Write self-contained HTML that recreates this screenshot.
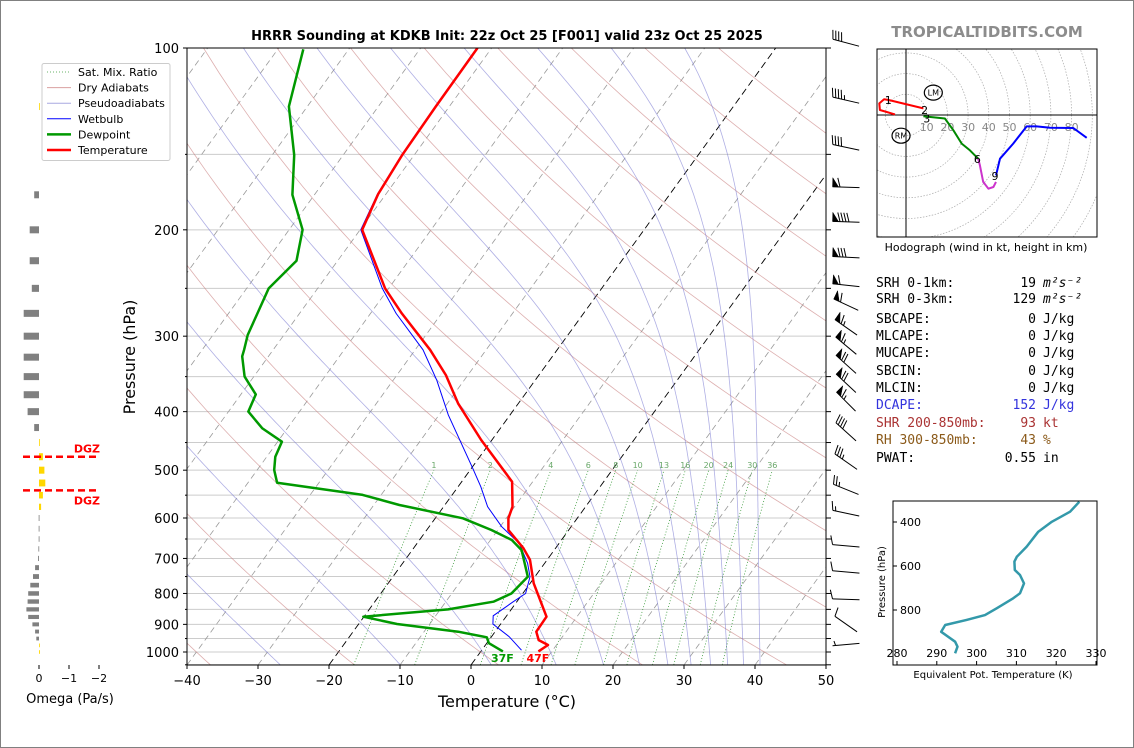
<!DOCTYPE html>
<html><head><meta charset="utf-8"><title>HRRR Sounding KDKB</title>
<style>
html,body{margin:0;padding:0;background:#fff;}
svg{display:block;font-family:"DejaVu Sans","Liberation Sans",sans-serif;}
</style></head>
<body>
<svg id="fig" xmlns="http://www.w3.org/2000/svg" width="1134" height="748" viewBox="0 0 1134 748">
<defs>
<clipPath id="mainclip"><rect x="187" y="48" width="639" height="617"/></clipPath>
<clipPath id="hodoclip"><rect x="877" y="49" width="220" height="188"/></clipPath>
<clipPath id="theclip"><rect x="893" y="501" width="204" height="164"/></clipPath>
</defs>
<rect x="0.5" y="0.5" width="1133" height="747" fill="#fff" stroke="#808080"/>
<text x="507" y="40" text-anchor="middle" font-size="13" font-weight="bold">HRRR Sounding at KDKB Init: 22z Oct 25 [F001] valid 23z Oct 25 2025</text>
<text x="987" y="37" text-anchor="middle" font-size="15" font-weight="bold" fill="#8c8c8c">TROPICALTIDBITS.COM</text>
<g id="main"></g>
<g id="omega"></g>
<g id="barbs"></g>
<g id="hodo"></g>
<g id="stats" font-family="'DejaVu Sans Mono','Liberation Mono',monospace" font-size="13">
<text x="876" y="287">SRH 0-1km:</text><text x="1036" y="287" text-anchor="end">19</text><text x="1043" y="287" font-style="italic">m²s⁻²</text>
<text x="876" y="303">SRH 0-3km:</text><text x="1036" y="303" text-anchor="end">129</text><text x="1043" y="303" font-style="italic">m²s⁻²</text>
<text x="876" y="323">SBCAPE:</text><text x="1036" y="323" text-anchor="end">0</text><text x="1043" y="323">J/kg</text>
<text x="876" y="340">MLCAPE:</text><text x="1036" y="340" text-anchor="end">0</text><text x="1043" y="340">J/kg</text>
<text x="876" y="357">MUCAPE:</text><text x="1036" y="357" text-anchor="end">0</text><text x="1043" y="357">J/kg</text>
<text x="876" y="375">SBCIN:</text><text x="1036" y="375" text-anchor="end">0</text><text x="1043" y="375">J/kg</text>
<text x="876" y="392">MLCIN:</text><text x="1036" y="392" text-anchor="end">0</text><text x="1043" y="392">J/kg</text>
<text x="876" y="409" fill="#3333dd">DCAPE:</text><text x="1036" y="409" text-anchor="end" fill="#3333dd">152</text><text x="1043" y="409" fill="#3333dd">J/kg</text>
<text x="876" y="427" fill="#aa3333">SHR 200-850mb:</text><text x="1036" y="427" text-anchor="end" fill="#aa3333">93</text><text x="1043" y="427" fill="#aa3333">kt</text>
<text x="876" y="444" fill="#8b5a1a">RH 300-850mb:</text><text x="1036" y="444" text-anchor="end" fill="#8b5a1a">43</text><text x="1043" y="444" fill="#8b5a1a">%</text>
<text x="876" y="462">PWAT:</text><text x="1036" y="462" text-anchor="end">0.55</text><text x="1043" y="462">in</text>
</g>
<g id="thetae"></g>
</svg>
<script>
// ---- Sounding data ----
const tempP = [100,125,150,174.5,200,250,275,316,348,387.6,445.7,522.5,574.7,600.6,628,673.5,704,769.7,874,925.6,955.7,973.6,997.7];
const tempC = [-62,-61.9,-61.7,-61.1,-59.7,-50.5,-45.6,-37.9,-33.1,-28.5,-21.5,-12.9,-10.3,-9.7,-8.5,-4.5,-2.4,0.5,5.7,5.8,7.0,8.8,8.1];
const dewP = [100.5,125,150.4,175,200,225,250,298.7,316,324,350,374.5,400,426.4,448.6,475,499.7,524.4,549.5,571,600.6,628,652.6,678,750.5,800,825.5,850,874,898.7,925.6,945.6,967,997.7];
const dewC = [-86.4,-82.6,-76.9,-73.1,-68.1,-65.8,-66.9,-65.1,-64.1,-63.7,-61.3,-57.9,-57.2,-53.5,-49.4,-48.8,-47.6,-45.9,-32.6,-26.4,-16.1,-10.9,-7.0,-4.6,-1.0,-1.6,-3.3,-8.9,-20.1,-14.6,-5.2,-0.6,0.3,3.1];
const wbP = [100,125,150,174.5,200,250,275,316,354.5,405,496.6,532.5,574.7,620,661,713,750.5,800,825.5,871,898.7,943.5,993];
const wbC = [-62.1,-62.0,-61.8,-61.2,-59.9,-50.9,-46.4,-38.9,-33.9,-28.7,-19.8,-16.8,-13.8,-9.8,-5.6,-2.4,-0.7,0.4,-0.5,-1.9,-1.1,2.5,5.6];
const mixRatios = [1,2,4,6,8,10,13,16,20,24,30,36];
const isoTemps = [-130,-120,-110,-100,-90,-80,-70,-60,-50,-40,-30,-20,-10,0,10,20,30,40,50];
const dryT0 = [-40,-20,0,20,40,60,80,100,120,140,160,180,200];
const moistTheta = [244,264,284,304,324,344,364,384,404,424,444,464];
const xTicks = [-40,-30,-20,-10,0,10,20,30,40,50];
const pTicks = [100,200,300,400,500,600,700,800,900,1000];
const pMinor = [150,250,350,450,550,650,750,850,950,1050];
const sfcTempLabel = "47F";
const sfcDewLabel = "37F";
// ---- Omega data ----
const omegaP = [125,175,200,225,250,275,300,325,350,375,400,425,450,475,500,525,550,575,600,625,650,675,700,725,750,775,800,825,850,875,900,925,950,975,1000];
const omegaV = [-0.02,0.16,0.31,0.31,0.24,0.51,0.51,0.51,0.51,0.51,0.38,0.16,-0.02,-0.13,-0.18,-0.21,-0.13,-0.07,0.01,0.01,0.01,0.02,0.03,0.13,0.2,0.29,0.36,0.38,0.42,0.36,0.22,0.13,0.09,-0.02,-0.03];
const omegaTicks = [0,-1,-2];
const dgzP = [475,540];
// ---- Wind barbs ----
const barbP = [98,122,146,170,194,222,247,266,290,311,334,359,385,432,484,538,589,667,737,818,899,972];
const barbDir = [285,283,282,272,272,273,276,295,305,310,312,313,315,312,305,292,282,275,275,272,305,265];
const barbSpd = [40,45,40,60,90,80,60,60,65,65,70,70,65,40,35,25,15,10,10,10,10,5];
// ---- Hodograph ----
const hodoU0 = [-5.3,-12.6,-12.9,-10.6,-8.1,8.4];
const hodoV0 = [0.3,2.4,5.6,7.6,7.2,3.2];
const hodoU1 = [8.4,12.4,18.8,22.9,26.9,30.9,34.9];
const hodoV1 = [-0.6,-1.0,-1.7,-7.4,-13.8,-17.1,-21.1];
const hodoU2 = [34.9,35.7,37.3,39.8,42.2,43.5];
const hodoV2 = [-21.1,-24.3,-32.3,-35.6,-34.8,-32.3];
const hodoU3 = [43.5,45.4,51.8,58.3,63.1,69.6,80.8,87.3];
const hodoV3 = [-29.2,-21.1,-13.8,-5.5,-5.5,-6.2,-6.3,-11.0];
const hodoRings = [10,20,30,40,50,60,70,80,90,100,110,120];
const hodoLabels = ["1","2","3","6","9"];
const hodoLabU = [-8.6,9,10,34.5,43];
const hodoLabV = [7.2,2.5,-1.8,-21.3,-29.5];
const stormU = [13.2,-2.4];
const stormV = [10.8,-10];
const stormNames = ["LM","RM"];
// ---- Theta-e ----
const thetaP = [308,353,399,444,512,558,580,618,641,679,724,747,792,823,845,868,899,944,967,997];
const thetaK = [325.8,323.5,318.9,315.5,312.6,310.1,309.5,309.6,310.9,311.9,310.9,309.2,305.1,302.1,297.5,292.1,291.1,294.6,295.2,294.6];
const thetaXTicks = [280,290,300,310,320,330];
const thetaYTicks = [400,600,800];

const NS='http://www.w3.org/2000/svg';
function mk(tag, attrs, parent){const e=document.createElementNS(NS,tag);for(const k in attrs)e.setAttribute(k,attrs[k]);parent.appendChild(e);return e;}
function yP(p){return 48+604*Math.log10(p/100);}
function xT(T,p){return 187+(T+40)*7.1+0.724*(665-yP(p));}
function prof(P,T){let d='';for(let i=0;i<P.length;i++){d+=(i?'L':'M')+xT(T[i],P[i]).toFixed(1)+' '+yP(P[i]).toFixed(1);}return d;}

const main=document.getElementById('main');
const clipG=mk('g',{'clip-path':'url(#mainclip)'},main);
for(let p=100;p<=1050;p+=50){
  const l=mk('line',{x1:187,x2:826,y1:yP(p),y2:yP(p),stroke:'#cccccc','stroke-width':1},clipG);
  
  
}
isoTemps.forEach(T=>{
  const black=(T===0||T===-20);
  const l=mk('line',{x1:xT(T,1050),y1:yP(1050),x2:xT(T,100),y2:yP(100),stroke:black?'#000':'#9a9a9a','stroke-width':black?0.9:0.8,'stroke-dasharray':black?'7,4':'6,4'},clipG);
  
  
});
dryT0.forEach(t0=>{
  let d='';for(let p=1050;p>=100;p-=10){const T=(t0+273.15)*Math.pow(p/1000,0.2857)-273.15;d+=(p===1050?'M':'L')+xT(T,p).toFixed(1)+' '+yP(p).toFixed(1);}
  const e=mk('path',{d:d,fill:'none',stroke:'#c77a7a','stroke-width':0.8,'stroke-opacity':0.6},clipG);
  
  
});
function es(Tc){return 6.112*Math.exp(17.67*Tc/(Tc+243.5));}
function dTdp(T,p){const Tc=T-273.15;const e=es(Tc);const rs=0.622*e/Math.max(p-e,1);return (287.04*T+2.501e6*rs)/(1005.7+2.501e6*2.501e6*rs*0.622/(287.04*T*T))/p;}
moistTheta.forEach(th=>{
  let p=100,T=th*Math.pow(0.1,0.2857);
  let d='M'+xT(T-273.15,p).toFixed(1)+' '+yP(p).toFixed(1);
  const step=5;
  while(p<1050){const k1=dTdp(T,p);const k2=dTdp(T+k1*step,p+step);T+=0.5*(k1+k2)*step;p+=step;d+='L'+xT(T-273.15,p).toFixed(1)+' '+yP(p).toFixed(1);}
  const e=mk('path',{d:d,fill:'none',stroke:'#7a7ad2','stroke-width':0.8,'stroke-opacity':0.6},clipG);
  
  
});
function tdFromW(w,p){const e=w*p/(622+w);const l=Math.log(e/6.112);return 243.5*l/(17.67-l);}
mixRatios.forEach(w=>{
  let d='';for(let p=1050;p>=500;p-=10){d+=(p===1050?'M':'L')+xT(tdFromW(w,p),p).toFixed(1)+' '+yP(p).toFixed(1);}
  const e=mk('path',{d:d,fill:'none',stroke:'#3a9a3a','stroke-width':0.8,'stroke-dasharray':'1,2'},clipG);
  
  
  const t=mk('text',{x:xT(tdFromW(w,500),500).toFixed(1),y:yP(500)-2,'text-anchor':'middle','font-size':8,fill:'#6aa86a'},clipG);
  t.textContent=String(w);
  
  
});
const wb=mk('path',{d:prof(wbP,wbC),fill:'none',stroke:'#0000ff','stroke-width':1},clipG);


const dp=mk('path',{d:prof(dewP,dewC),fill:'none',stroke:'#009900','stroke-width':2.5,'stroke-linejoin':'round'},clipG);


const tp=mk('path',{d:prof(tempP,tempC),fill:'none',stroke:'#ff0000','stroke-width':2.5,'stroke-linejoin':'round'},clipG);


const sd=mk('text',{x:xT(dewC[dewC.length-1],1000).toFixed(1),y:662,'text-anchor':'middle','font-size':11,'font-weight':'bold',fill:'#009900'},main);
sd.textContent=sfcDewLabel;


const st=mk('text',{x:xT(tempC[tempC.length-1],1000).toFixed(1),y:662,'text-anchor':'middle','font-size':11,'font-weight':'bold',fill:'#ff0000'},main);
st.textContent=sfcTempLabel;


const fr=mk('rect',{x:187,y:48,width:639,height:617,fill:'none',stroke:'#000','stroke-width':1},main);


xTicks.forEach(T=>{
  const x=187+(T+40)*7.1;
  const l=mk('line',{x1:x,x2:x,y1:665,y2:669,stroke:'#000'},main);
  
  
  const t=mk('text',{x:x,y:685,'text-anchor':'middle','font-size':13},main);
  t.textContent=(T<0?'\u2212':'')+Math.abs(T);
  
  
});
pTicks.forEach(p=>{
  const l=mk('line',{x1:183,x2:187,y1:yP(p),y2:yP(p),stroke:'#000'},main);
  
  
  const t=mk('text',{x:179,y:yP(p)+5,'text-anchor':'end','font-size':13},main);
  t.textContent=String(p);
  
  
});
pMinor.forEach(p=>{
  const l=mk('line',{x1:185,x2:187,y1:yP(p),y2:yP(p),stroke:'#000'},main);
  
  
});
pTicks.concat(pMinor).forEach(p=>{
  const l=mk('line',{x1:826,x2:831,y1:yP(p),y2:yP(p),stroke:'#000'},main);
  
  
});
const xl=mk('text',{x:507,y:707,'text-anchor':'middle','font-size':16},main);
xl.textContent='Temperature (°C)';


const yl=mk('text',{x:0,y:0,'text-anchor':'middle','font-size':16,transform:'translate(135,357) rotate(-90)'},main);
yl.textContent='Pressure (hPa)';



const lg=mk('g',{},main);


mk('rect',{x:42,y:63.5,width:128,height:97,fill:'#fff',stroke:'#cccccc','stroke-width':1,rx:2},lg);
const legItems=[['Sat. Mix. Ratio','#3a9a3a',0.8,'1,2'],['Dry Adiabats','#d9a0a0',1,''],['Pseudoadiabats','#a8a8e0',1,''],['Wetbulb','#0000ff',1,''],['Dewpoint','#009900',2.5,''],['Temperature','#ff0000',2.5,'']];
legItems.forEach((it,i)=>{
  const y=72+i*15.6;
  const g=mk('g',{},lg);
  
  
  const a={x1:47,x2:71,y1:y,y2:y,stroke:it[1],'stroke-width':it[2]};
  if(it[3])a['stroke-dasharray']=it[3];
  mk('line',a,g);
  const t=mk('text',{x:78,y:y+4,'font-size':11},g);
  t.textContent=it[0];
});

// ---- Omega panel ----
const om=document.getElementById('omega');
function xO(v){return 39-30*v;}
function yO(p){return yP(p);}
omegaP.forEach((p,i)=>{
  const v=omegaV[i];
  const h=Math.min(7,0.55*(yO(p+12.5)-yO(p-12.5)));
  const x0=Math.min(xO(0),xO(v)),w=Math.max(Math.abs(xO(v)-xO(0)),0.8);
  const r=mk('rect',{x:x0,y:yO(p)-h/2,width:w,height:h,fill:v<0?'#ffd700':'#808080'},om);
  
  
});
dgzP.forEach((p,i)=>{
  const l=mk('line',{x1:23,x2:99,y1:yO(p),y2:yO(p),stroke:'#ff0000','stroke-width':2.5,'stroke-dasharray':'7,4'},om);
  
  
  const t=mk('text',{x:100,y:i===0?yO(p)-4:yO(p)+14,'text-anchor':'end','font-size':11,'font-weight':'bold',fill:'#ff0000'},om);
  t.textContent='DGZ';
  
  
});
omegaTicks.forEach(v=>{
  const l=mk('line',{x1:xO(v),x2:xO(v),y1:665,y2:669,stroke:'#000'},om);
  
  
  const t=mk('text',{x:xO(v),y:682,'text-anchor':'middle','font-size':11},om);
  t.textContent=(v<0?'\u2212':'')+Math.abs(v);
  
  
});
const ol=mk('text',{x:70,y:703,'text-anchor':'middle','font-size':13},om);
ol.textContent='Omega (Pa/s)';



// ---- Wind barbs ----
const bb=document.getElementById('barbs');
barbP.forEach((p,i)=>{
  const g=mk('g',{stroke:'#000',fill:'#000','stroke-width':1},bb);
  
  
  const th=barbDir[i]*Math.PI/180;
  const sx=Math.sin(th),sy=-Math.cos(th);
  const L=27,cx=846,cy=yP(p);
  const bx=cx-sx*L/2,by=cy-sy*L/2;
  const tx=cx+sx*L/2,ty=cy+sy*L/2;
  mk('line',{x1:bx,y1:by,x2:tx,y2:ty},g);
  const px=-sy,py=sx;
  let spd=Math.round(barbSpd[i]/5)*5;let pos=0;
  while(spd>=50){const ax=tx-sx*pos,ay=ty-sy*pos;mk('polygon',{points:`${ax},${ay} ${ax+px*9},${ay+py*9} ${ax-sx*6},${ay-sy*6}`,stroke:'#000','stroke-width':0.5},g);pos+=7.5;spd-=50;}
  while(spd>=10){const ax=tx-sx*pos,ay=ty-sy*pos;mk('line',{x1:ax,y1:ay,x2:ax+px*9+sx*2.5,y2:ay+py*9+sy*2.5},g);pos+=3;spd-=10;}
  if(spd>=5){if(pos===0)pos=3;const ax=tx-sx*pos,ay=ty-sy*pos;mk('line',{x1:ax,y1:ay,x2:ax+px*4.5+sx*1.2,y2:ay+py*4.5+sy*1.2},g);}
});

// ---- Hodograph ----
const hd=document.getElementById('hodo');
const HX=906,HY=115,HK=2.07;
function hx(u){return HX+u*HK;}
function hy(v){return HY-v*HK;}
const hc=mk('g',{'clip-path':'url(#hodoclip)'},hd);
hodoRings.forEach(r=>{
  const c=mk('circle',{cx:HX,cy:HY,r:r*HK,fill:'none',stroke:'#aaaaaa','stroke-width':0.7,'stroke-dasharray':'1.5,1.5'},hc);
  
  
});
mk('line',{x1:877,x2:1097,y1:HY,y2:HY,stroke:'#000','stroke-width':1},hc);
mk('line',{x1:HX,x2:HX,y1:49,y2:237,stroke:'#000','stroke-width':1},hc);
hodoRings.slice(0,8).forEach(r=>{
  const t=mk('text',{x:hx(r),y:131,'text-anchor':'middle','font-size':11,fill:'#888888'},hc);
  t.textContent=String(r);
  
  
});
function hpath(U,V){let d='';U.forEach((u,i)=>{d+=(i?'L':'M')+hx(u).toFixed(1)+' '+hy(V[i]).toFixed(1);});return d;}
[[hodoU0,hodoV0,'#ff0000','hodograph-0-1km'],[hodoU1,hodoV1,'#008800','hodograph-3-6km'],[hodoU2,hodoV2,'#cc33cc','hodograph-6-9km'],[hodoU3,hodoV3,'#0000ff','hodograph-9km-plus']].forEach(s=>{
  const e=mk('path',{d:hpath(s[0],s[1]),fill:'none',stroke:s[2],'stroke-width':2,'stroke-linejoin':'round'},hc);
  
  
});
hodoLabels.forEach((s,i)=>{
  const t=mk('text',{x:hx(hodoLabU[i]),y:hy(hodoLabV[i])+4,'text-anchor':'middle','font-size':11},hc);
  t.textContent=s;
  
  
});
stormNames.forEach((s,i)=>{
  const g=mk('g',{},hc);
  
  
  mk('ellipse',{cx:hx(stormU[i]),cy:hy(stormV[i]),rx:9,ry:7.5,fill:'none',stroke:'#000','stroke-width':1.2},g);
  const t=mk('text',{x:hx(stormU[i]),y:hy(stormV[i])+3,'text-anchor':'middle','font-size':8},g);
  t.textContent=s;
});
mk('rect',{x:877,y:49,width:220,height:188,fill:'none',stroke:'#000','stroke-width':1},hd);
const hcap=mk('text',{x:986,y:251,'text-anchor':'middle','font-size':11},hd);
hcap.textContent='Hodograph (wind in kt, height in km)';



// ---- Theta-e panel ----
const te=document.getElementById('thetae');
function tx_(k){return 897+(k-280)*3.98;}
function ty_(p){return 522+(p-400)*0.22;}
const tcg=mk('g',{'clip-path':'url(#theclip)'},te);
let td='';thetaP.forEach((p,i)=>{td+=(i?'L':'M')+tx_(thetaK[i]).toFixed(1)+' '+ty_(p).toFixed(1);});
const tl=mk('path',{d:td,fill:'none',stroke:'#3399aa','stroke-width':2.5,'stroke-linejoin':'round'},tcg);


mk('rect',{x:893,y:501,width:204,height:164,fill:'none',stroke:'#000','stroke-width':1},te);
thetaXTicks.forEach(k=>{
  const l=mk('line',{x1:tx_(k),x2:tx_(k),y1:665,y2:661,stroke:'#000'},te);
  
  
  const t=mk('text',{x:tx_(k),y:657,'text-anchor':'middle','font-size':11},te);
  t.textContent=String(k);
  
  
});
thetaYTicks.forEach(p=>{
  const l=mk('line',{x1:893,x2:897,y1:ty_(p),y2:ty_(p),stroke:'#000'},te);
  
  
  const t=mk('text',{x:900,y:ty_(p)+4,'font-size':11},te);
  t.textContent=String(p);
  
  
});
const tex=mk('text',{x:993,y:678,'text-anchor':'middle','font-size':10},te);
tex.textContent='Equivalent Pot. Temperature (K)';


const tey=mk('text',{x:0,y:0,'text-anchor':'middle','font-size':10,transform:'translate(885,582) rotate(-90)'},te);
tey.textContent='Pressure (hPa)';


</script>
</body></html>
